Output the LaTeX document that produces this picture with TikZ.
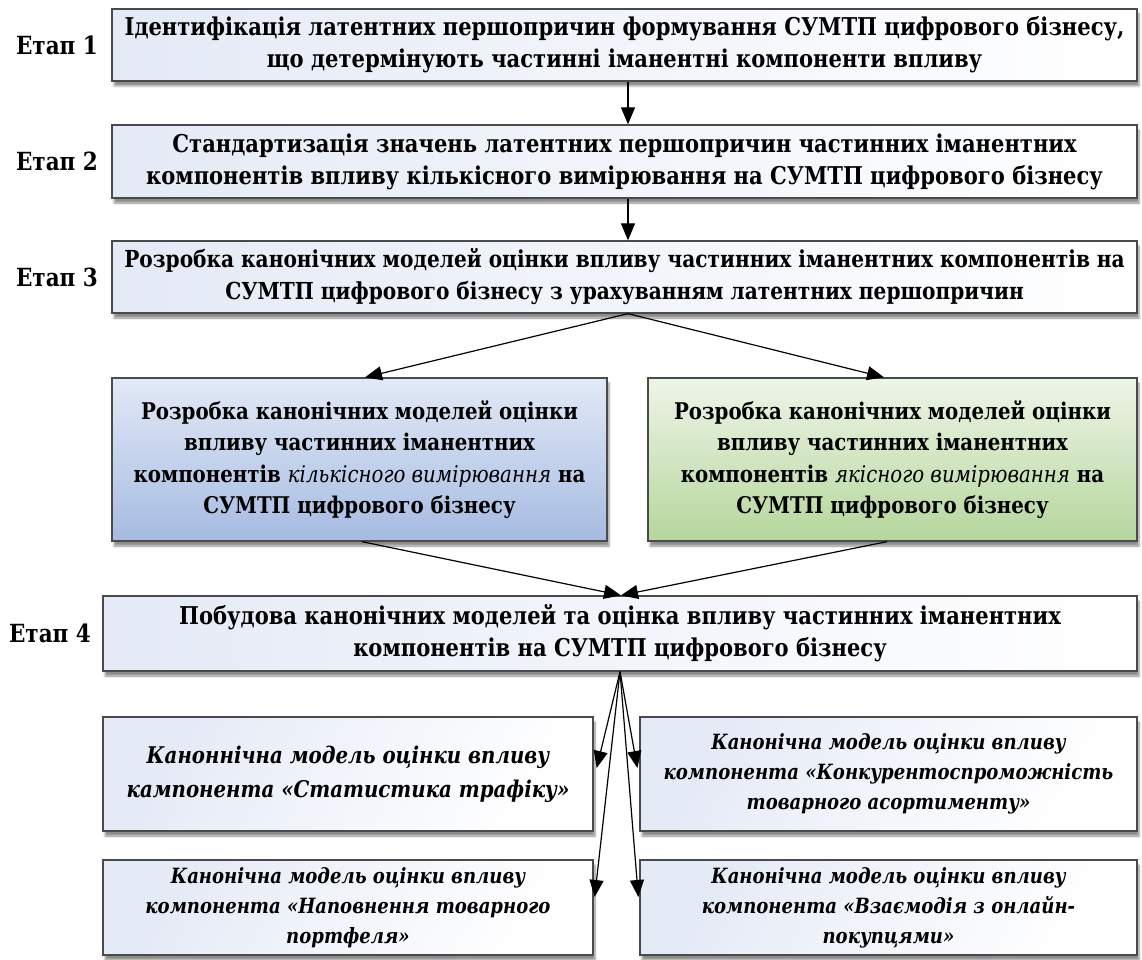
\documentclass[tikz,border=0pt]{standalone}
\usepackage{fontspec}
\setmainfont{DejaVu Serif}[FakeStretch=0.86]
\usetikzlibrary{arrows.meta,shadows.blur}
\definecolor{bordc}{HTML}{4A4A4A}
\definecolor{paleL}{HTML}{E4EAF6}
\definecolor{blueT}{HTML}{E2E9F6}
\definecolor{blueB}{HTML}{A6BBE2}
\definecolor{greenT}{HTML}{EEF5E8}
\definecolor{greenB}{HTML}{B5D69C}
\begin{document}
\begin{tikzpicture}[x=1pt,y=-1pt,
  basebox/.style={draw=bordc,line width=1.3pt,inner sep=0pt,align=center,
    font=\fontsize{24.5}{32}\selectfont\bfseries,
    blur shadow={shadow xshift=2pt,shadow yshift=-5pt,shadow blur steps=6,shadow opacity=45}},
  palebox/.style={basebox,left color=paleL,right color=white},
  italbox/.style={basebox,left color=paleL,right color=white,shading angle=60,
    font=\fontsize{21}{30}\selectfont\bfseries\itshape},
  bigital/.style={italbox,font=\fontsize{23}{34}\selectfont\bfseries\itshape},
  bluebox/.style={basebox,top color=blueT,bottom color=blueB,font=\fontsize{23}{31.5}\selectfont\bfseries},
  greenbox/.style={basebox,top color=greenT,bottom color=greenB,font=\fontsize{23}{31.5}\selectfont\bfseries},
  stagelbl/.style={font=\fontsize{25}{32}\selectfont\bfseries,inner sep=0pt},
  arr/.style={line width=1.2pt,-{Triangle[length=17pt,width=14pt]}}]
\useasboundingbox (0,0) rectangle (1142,960);

\node[palebox,minimum width=1025pt,minimum height=72pt] (b1) at (624.5,45)
  {Ідентифікація латентних першопричин формування СУМТП цифрового бізнесу,\\що детермінують частинні іманентні компоненти впливу};
\node[palebox,minimum width=1025pt,minimum height=73pt] (b2) at (624.5,161.5)
  {Стандартизація значень латентних першопричин частинних іманентних\\компонентів впливу кількісного вимірювання на СУМТП цифрового бізнесу};
\node[palebox,minimum width=1025pt,minimum height=72pt,font=\fontsize{23.4}{32}\selectfont\bfseries] (b3) at (624.5,277)
  {Розробка канонічних моделей оцінки впливу частинних іманентних компонентів на\\СУМТП цифрового бізнесу з урахуванням латентних першопричин};
\node[bluebox,minimum width=495pt,minimum height=163pt] (blue) at (359.5,459.5)
  {Розробка канонічних моделей оцінки\\впливу частинних іманентних\\компонентів \textmd{\itshape кількісного вимірювання} на\\СУМТП цифрового бізнесу};
\node[greenbox,minimum width=489pt,minimum height=163pt] (green) at (892.5,459.5)
  {Розробка канонічних моделей оцінки\\впливу частинних іманентних\\компонентів \textmd{\itshape якісного вимірювання} на\\СУМТП цифрового бізнесу};
\node[palebox,minimum width=1034pt,minimum height=75pt] (b4) at (620,633.5)
  {Побудова канонічних моделей та оцінка впливу частинних іманентних\\компонентів на СУМТП цифрового бізнесу};
\node[bigital,minimum width=490pt,minimum height=114pt] (b5) at (348,774)
  {Каноннічна модель оцінки впливу\\кампонента «Статистика трафіку»};
\node[italbox,minimum width=497pt,minimum height=114pt] (b6) at (888.5,774)
  {Канонічна модель оцінки впливу\\компонента «Конкурентоспроможність\\товарного асортименту»};
\node[italbox,minimum width=490pt,minimum height=95pt] (b7) at (348,907.5)
  {Канонічна модель оцінки впливу\\компонента «Наповнення товарного\\портфеля»};
\node[italbox,minimum width=497pt,minimum height=95pt] (b8) at (888.5,907.5)
  {Канонічна модель оцінки впливу\\компонента «Взаємодія з онлайн-\\покупцями»};

\node[stagelbl] (s1) at (57,45) {Етап 1};
\node[stagelbl] (s2) at (57,161.5) {Етап 2};
\node[stagelbl] (s3) at (57,277) {Етап 3};
\node[stagelbl] (s4) at (50,633.5) {Етап 4};

\draw[arr] ([xshift=3.5pt]b1.south) -- ([xshift=3.5pt]b2.north);
\draw[arr] ([xshift=3.5pt]b2.south) -- ([xshift=3.5pt]b3.north);
\draw[arr] ([xshift=3.5pt]b3.south) -- ([xshift=5.5pt]blue.north);
\draw[arr] ([xshift=3.5pt]b3.south) -- ([xshift=-8.5pt]green.north);
\draw[arr] ([xshift=2.5pt]blue.south) -- ([xshift=1pt]b4.north);
\draw[arr] ([xshift=-5.5pt]green.south) -- ([xshift=1pt]b4.north);
\draw[arr] (b4.south) -- ([shift={(3,-6)}]b5.east);
\draw[arr] (b4.south) -- ([shift={(-2,-6)}]b6.west);
\draw[arr] (b4.south) -- ([shift={(1,-10.5)}]b7.east);
\draw[arr] (b4.south) -- ([shift={(-1,-10.5)}]b8.west);
\end{tikzpicture}
\end{document}
